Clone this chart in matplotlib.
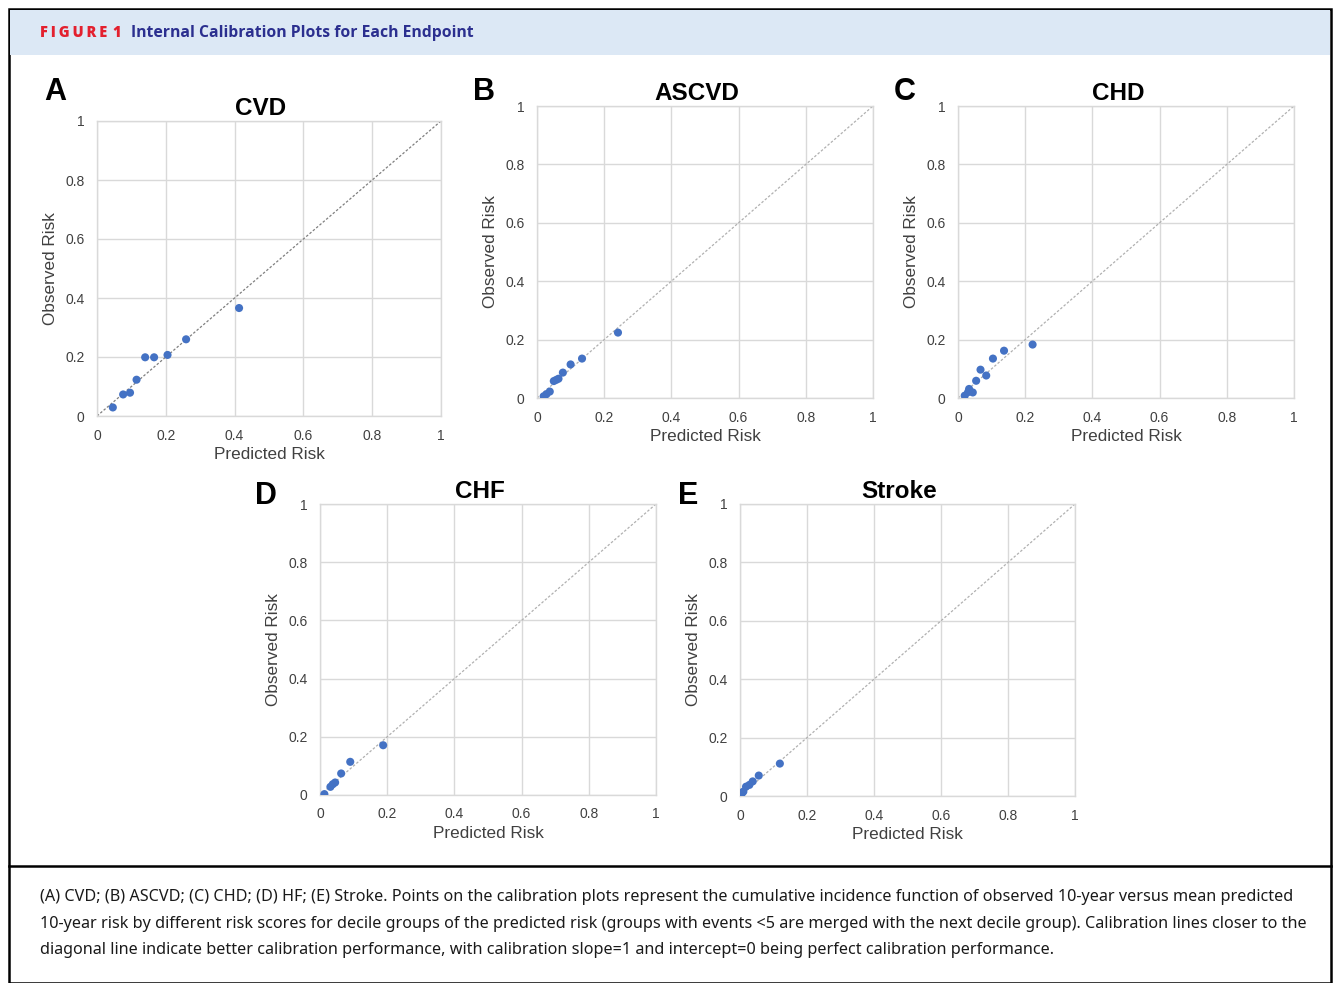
import matplotlib
matplotlib.use("Agg")
import matplotlib.pyplot as plt
from matplotlib.patches import Rectangle
from matplotlib.lines import Line2D

# --- data (predicted vs observed 10-year risk) ---
cvd_pred = [0.046, 0.076, 0.096, 0.115, 0.140, 0.166, 0.205, 0.259, 0.413]
cvd_obs = [0.029, 0.073, 0.079, 0.123, 0.199, 0.199, 0.207, 0.260, 0.366]

ascvd_pred = [0.020, 0.028, 0.038, 0.050, 0.057, 0.064, 0.077, 0.100, 0.134, 0.241]
ascvd_obs = [0.006, 0.013, 0.022, 0.058, 0.062, 0.066, 0.087, 0.115, 0.135, 0.224]

chd_pred = [0.020, 0.030, 0.033, 0.044, 0.054, 0.067, 0.084, 0.104, 0.137, 0.222]
chd_obs = [0.008, 0.020, 0.031, 0.019, 0.059, 0.097, 0.077, 0.135, 0.162, 0.183]

chf_pred = [0.013, 0.031, 0.038, 0.045, 0.063, 0.090, 0.188]
chf_obs = [0.003, 0.028, 0.037, 0.043, 0.074, 0.114, 0.171]

stroke_pred = [0.003, 0.006, 0.010, 0.018, 0.028, 0.038, 0.056, 0.119]
stroke_obs = [0.006, 0.010, 0.015, 0.032, 0.038, 0.050, 0.070, 0.111]

panel_letters = ["A", "B", "C", "D", "E"]
panel_titles = ["CVD", "ASCVD", "CHD", "CHF", "Stroke"]
ticks = [0, 0.2, 0.4, 0.6, 0.8, 1]
tick_labels = ["0", "0.2", "0.4", "0.6", "0.8", "1"]

header_tag = "\u2009".join("FIGURE") + "\u2009\u20091"
header_title = "Internal Calibration Plots for Each Endpoint"
caption = [
    "(A) CVD; (B) ASCVD; (C) CHD; (D) HF; (E) Stroke. Points on the calibration plots represent the cumulative incidence function of observed 10-year versus mean predicted",
    "10-year risk by different risk scores for decile groups of the predicted risk (groups with events <5 are merged with the next decile group). Calibration lines closer to the",
    "diagonal line indicate better calibration performance, with calibration slope=1 and intercept=0 being perfect calibration performance.",
]

W, H = 1336, 983
fig = plt.figure(figsize=(W / 100, H / 100), dpi=100)


def frac(x0, y0, x1, y1):
    # pixel box (top-left origin) -> figure fraction rect
    return [x0 / W, 1 - y1 / H, (x1 - x0) / W, (y1 - y0) / H]


def fx(x):
    return x / W


def fy(y):
    return 1 - y / H


# frame, header band, separator
fig.patches.append(Rectangle((fx(9), fy(983)), fx(1331) - fx(9), fy(9) - fy(983),
                             transform=fig.transFigure, fill=False, ec="black", lw=1.8))
fig.patches.append(Rectangle((fx(10), fy(55)), fx(1330) - fx(10), fy(10) - fy(55),
                             transform=fig.transFigure, fc="#dce8f5", ec="none"))
fig.lines.append(Line2D([fx(9), fx(1331)], [fy(866), fy(866)], transform=fig.transFigure,
                        color="black", lw=1.8))

fig.text(fx(40), fy(33), header_tag, color="#e3202e", fontsize=10.5, fontweight="heavy",
         family=["Open Sans", "DejaVu Sans"], va="center")
fig.text(fx(131), fy(33), header_title, color="#2b2f8f", fontsize=11.3, fontweight="bold",
         family="Open Sans", va="center")

for i, line in enumerate(caption):
    fig.text(fx(40), fy(897 + 26.5 * i), line, fontsize=11.65, family="Noto Sans",
             color="#1a1a1a", va="center")

panels = [
    (cvd_pred, cvd_obs, (97, 121, 441, 416), (55, 92), "#7f7f7f"),
    (ascvd_pred, ascvd_obs, (537, 106, 873, 398), (484, 92), "#b0b0b0"),
    (chd_pred, chd_obs, (958, 106, 1294, 398), (905, 92), "#b0b0b0"),
    (chf_pred, chf_obs, (320, 504, 656, 795), (266, 496), "#b0b0b0"),
    (stroke_pred, stroke_obs, (740, 504, 1075, 796), (688, 496), "#b0b0b0"),
]

for (pred, obs, box, lpos, diag_col), letter, title in zip(panels, panel_letters, panel_titles):
    ax = fig.add_axes(frac(*box))
    ax.set_xlim(0, 1)
    ax.set_ylim(0, 1)
    ax.set_xticks(ticks)
    ax.set_yticks(ticks)
    ax.set_xticklabels(tick_labels)
    ax.set_yticklabels(tick_labels)
    ax.grid(True, color="#d9d9d9", lw=1)
    ax.set_axisbelow(True)
    for s in ax.spines.values():
        s.set_color("#d9d9d9")
        s.set_linewidth(1)
    ax.tick_params(length=0, pad=9, labelsize=10, labelcolor="#404040")
    for lab in ax.get_xticklabels() + ax.get_yticklabels():
        lab.set_family("Liberation Sans")

    ax.plot([0, 1], [0, 1], ls=(0, (2, 1.5)), color=diag_col, lw=0.9, zorder=2)
    ax.scatter(pred, obs, s=34, color="#4472c4", edgecolors="none", zorder=3)

    ax.set_title(title, fontsize=17.5, fontweight="bold", family="Liberation Sans",
                 pad=4, x=0.5 - 8 / (box[2] - box[0]))
    ax.set_xlabel("Predicted Risk", fontsize=12.3, family="Liberation Sans",
                  color="#404040", labelpad=3)
    ax.set_ylabel("Observed Risk", fontsize=12.3, family="Liberation Sans",
                  color="#404040", labelpad=5)

    fig.text(fx(lpos[0]), fy(lpos[1]), letter, fontsize=22, fontweight="bold",
             family="Liberation Sans", ha="center", va="center")

fig.savefig("out.png", dpi=100)
